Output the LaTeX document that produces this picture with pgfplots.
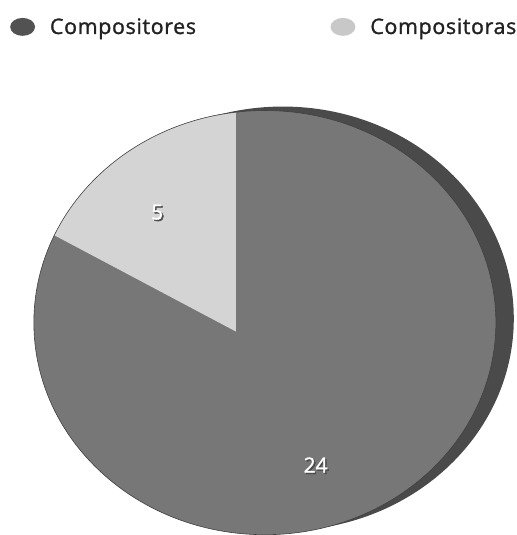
\documentclass[border=0pt]{standalone}
\usepackage{fontspec}
\setmainfont{Open Sans}
\newfontfamily\legfont[FakeBold=1.3, LetterSpace=3]{Open Sans}
\newfontfamily\numfont[FakeBold=1.3]{Open Sans}
\usepackage{pgfplots}
\usepackage{pgfplotstable}
\pgfplotsset{compat=1.18}
\definecolor{facedark}{HTML}{777777}
\definecolor{banddark}{HTML}{4A4A4A}
\definecolor{facelight}{HTML}{D4D4D4}
\definecolor{legdark}{HTML}{525252}
\definecolor{leglight}{HTML}{C8C8C8}
\definecolor{txt}{HTML}{222222}
\pgfplotstableread{
name value
Compositores 24
Compositoras 5
}\piedata
\begin{document}
\begin{tikzpicture}
\pgfplotstablegetelem{0}{value}\of\piedata \let\va\pgfplotsretval
\pgfplotstablegetelem{1}{value}\of\piedata \let\vb\pgfplotsretval
\pgfmathsetmacro\angB{90+360*\vb/(\va+\vb)}
\pgfmathsetmacro\angM{(90+\angB)/2}
\begin{axis}[hide axis, scale only axis, width=519pt, height=535pt,
  xmin=0, xmax=519, ymin=0, ymax=535, y dir=reverse, clip=false,
  legend columns=2,
  legend style={at={(axis cs:10,27)}, anchor=west, draw=none, fill=none,
    inner sep=0pt, nodes={inner sep=0pt, text=txt},
    font=\legfont\fontsize{21.5}{25}\selectfont,
    /tikz/every odd column/.append style={column sep=15pt},
    /tikz/every even column/.append style={column sep=135pt}},
  ]
\addlegendimage{legend image code/.code={\fill[fill=legdark, draw=none] (12.5pt,0pt) ellipse [x radius=12.5pt, y radius=9pt];}}
\addlegendentry{Compositores}
\addlegendimage{legend image code/.code={\fill[fill=leglight, draw=none] (12.5pt,0pt) ellipse [x radius=12.5pt, y radius=9pt];}}
\addlegendentry{Compositoras}
\path (axis cs:0,0) rectangle (axis cs:519,535);
% 3D edge
\fill[banddark] (axis cs:284,320) ellipse [x radius=232pt, y radius=213pt];
% face (dark slice)
\fill[facedark, draw=black!75, line width=0.6pt] (axis cs:266,324) ellipse [x radius=232pt, y radius=213pt];
% light slice
\begin{scope}
\clip (axis cs:266,324) ellipse [x radius=231.5pt, y radius=212.5pt];
\fill[facelight] (axis cs:237,333) -- (axis cs:237,-400)
  -- (axis cs:{237+900*cos(\angM)},{333-900*sin(\angM)})
  -- (axis cs:{237+700*cos(\angB)},{333-700*sin(\angB)}) -- cycle;
\end{scope}
\node[text=black!70, font=\numfont\fontsize{21}{24}\selectfont] at (axis cs:159.5,214.5) {\vb};
\node[text=white, font=\numfont\fontsize{21}{24}\selectfont] at (axis cs:158,213) {\vb};
\node[text=black!70, font=\numfont\fontsize{21}{24}\selectfont] at (axis cs:318.5,468.5) {\va};
\node[text=white, font=\numfont\fontsize{21}{24}\selectfont] at (axis cs:317,467) {\va};
\end{axis}
\end{tikzpicture}
\end{document}
